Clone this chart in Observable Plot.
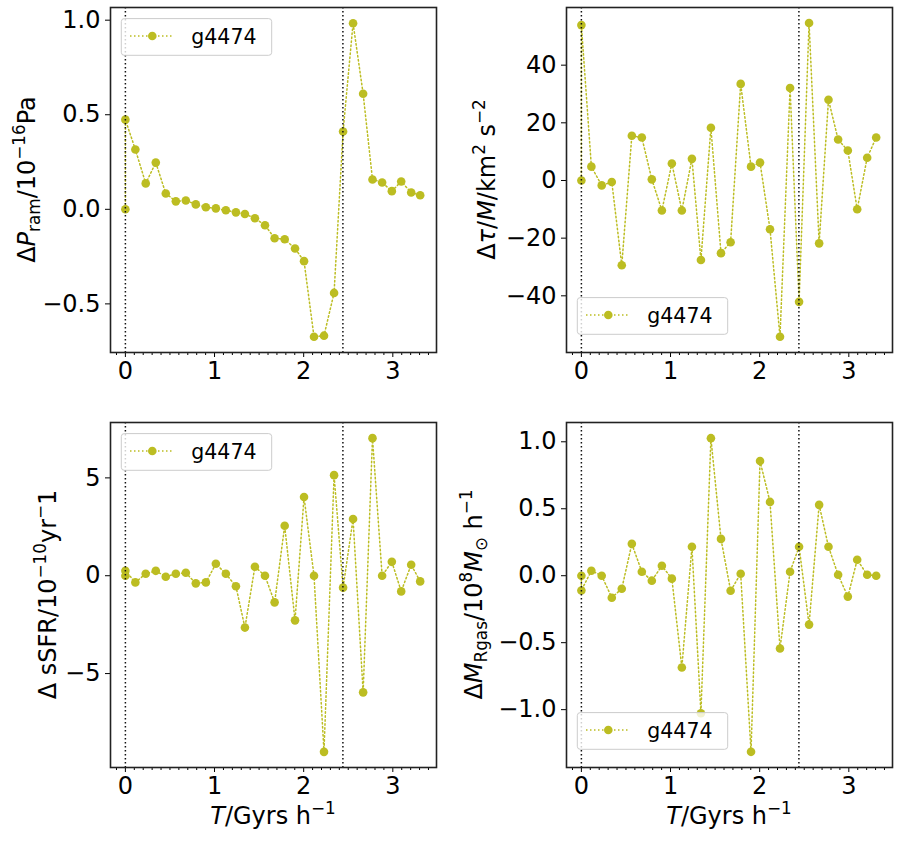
<!DOCTYPE html>
<html><head><meta charset="utf-8">
<script src="https://cdn.jsdelivr.net/npm/d3@7"></script>
<script src="https://cdn.jsdelivr.net/npm/@observablehq/plot@0.6"></script>
<style>
html,body{margin:0;padding:0;background:#fff;overflow:hidden;}
#fig{position:relative;width:898px;height:842px;font-family:"DejaVu Sans";}
#fig svg{position:absolute;}
</style></head><body><div id="fig"></div>
<script>
// ---- data ----
const times = [0, 0, 0.112, 0.228, 0.341, 0.453, 0.566, 0.678, 0.790, 0.903, 1.015, 1.127, 1.240, 1.341, 1.453, 1.566, 1.674, 1.787, 1.903, 2.004, 2.116, 2.228, 2.341, 2.442, 2.554, 2.667, 2.772, 2.880, 2.989, 3.094, 3.206, 3.307];
const dPram = [0, 0.474, 0.316, 0.137, 0.247, 0.084, 0.042, 0.047, 0.026, 0.011, 0.005, -0.005, -0.016, -0.025, -0.047, -0.084, -0.153, -0.158, -0.207, -0.274, -0.674, -0.668, -0.442, 0.411, 0.984, 0.611, 0.158, 0.142, 0.096, 0.147, 0.089, 0.074];
const dTau = [0, 53.9, 4.8, -1.7, -0.5, -29.4, 15.5, 14.9, 0.4, -10.4, 5.9, -10.4, 7.5, -27.6, 18.3, -25.2, -21.4, 33.5, 4.8, 6.2, -16.9, -54.2, 32.1, -42.1, 54.6, -21.8, 28.0, 14.2, 10.4, -10.0, 7.9, 14.9];
const dSSFR = [0, 0.25, -0.34, 0.10, 0.25, -0.05, 0.10, 0.15, -0.39, -0.34, 0.61, 0.10, -0.54, -2.65, 0.46, 0.0, -1.36, 2.55, -2.28, 4.02, 0.0, -9.0, 5.14, -0.61, 2.90, -5.96, 7.03, 0.0, 0.71, -0.80, 0.56, -0.29];
const dMgas = [0, -0.11, 0.037, 0.0, -0.164, -0.097, 0.238, 0.030, -0.037, 0.074, -0.022, -0.685, 0.216, -1.027, 1.027, 0.275, -0.112, 0.015, -1.315, 0.856, 0.551, -0.543, 0.030, 0.216, -0.365, 0.529, 0.216, 0.007, -0.156, 0.119, 0.007, 0.0];
const vLines = [0, 2.44];
const seriesName = "g4474";
const xTicks = [0, 1, 2, 3];
const yTicksPram = [-0.5, 0.0, 0.5, 1.0];
const yTicksTau = [-40, -20, 0, 20, 40];
const yTicksSSFR = [-5, 0, 5];
const yTicksMgas = [-1.0, -0.5, 0.0, 0.5, 1.0];
const xDomain = [-0.167, 3.49];

const olive = "#bcbd22";
const minorX = d3.range(-0.1, 3.45, 0.1).map(v => Math.round(v * 10) / 10).filter(v => !Number.isInteger(v));
const minus = s => s.replace("-", "\u2212");
const fmt1 = d => minus(d.toFixed(1));
const fmt0 = d => minus(String(d));

const fig = d3.select("#fig");
const FW = 326, FH = 345, ML = 110, MT = 7;
const TICK_FS = 24, LABEL_FS = 24;

function addText(svg, x, y, rotate, parts, fs) {
  const t = d3.select(svg).append("text")
    .attr("transform", `translate(${x},${y})` + (rotate ? " rotate(-90)" : ""))
    .attr("text-anchor", "middle")
    .attr("font-family", "DejaVu Sans")
    .attr("font-size", fs)
    .attr("fill", "black");
  let shift = 0;
  for (const [s, kind] of parts) {
    let target = 0, size = fs, style = "normal";
    if (kind === "sup") { target = -0.42 * fs; size = 0.7 * fs; }
    if (kind === "sub") { target = 0.22 * fs; size = 0.7 * fs; }
    if (kind === "i") style = "italic";
    t.append("tspan").attr("dy", target - shift).attr("font-size", size)
      .attr("font-style", style).text(s);
    shift = target;
  }
}

function panel({left, top, series, yDomain, yTicks, yFmt, yLabel, yLabelX, legendLow, xLabel}) {
  const mB = xLabel ? 80 : 50;
  const mR = 6;
  const data = times.map((t, i) => ({t, v: series[i]}));
  const svg = Plot.plot({
    width: ML + FW + mR, height: MT + FH + mB,
    marginLeft: ML, marginTop: MT, marginRight: mR, marginBottom: mB,
    style: {fontFamily: "DejaVu Sans", fontSize: TICK_FS + "px", color: "black", background: "transparent", overflow: "visible"},
    x: {domain: xDomain},
    y: {domain: yDomain},
    marks: [
      Plot.line(data, {x: "t", y: "v", stroke: olive, strokeWidth: 1.5, strokeDasharray: "1.5,2.5"}),
      Plot.dot(data, {x: "t", y: "v", fill: olive, r: 4.3}),
      Plot.ruleX(vLines, {stroke: "#111", strokeWidth: 1.5, strokeDasharray: "1.5,2.5"}),
      Plot.axisX({ticks: minorX, tickSize: 3, tickFormat: () => "", label: null}),
      Plot.axisX({ticks: xTicks, tickSize: 5, tickPadding: 4, tickFormat: fmt0, fontSize: TICK_FS, label: null}),
      Plot.axisY({ticks: yTicks, tickSize: 5, tickPadding: 5, tickFormat: yFmt, fontSize: TICK_FS, label: null}),
      Plot.frame({stroke: "#222", strokeWidth: 1.6})
    ]
  });
  svg.style.left = (left - ML) + "px";
  svg.style.top = (top - MT) + "px";
  // y label
  addText(svg, yLabelX - (left - ML), MT + FH / 2, true, yLabel, LABEL_FS);
  if (xLabel) addText(svg, ML + FW / 2, MT + FH + 57, false, xLabel, LABEL_FS);
  // legend
  const ly = legendLow ? MT + FH - 54.4 : MT + 11.6;
  const g = d3.select(svg).append("g").attr("transform", `translate(${ML + 11.3},${ly})`);
  g.append("rect").attr("width", 150.4).attr("height", 36.7).attr("rx", 3)
    .attr("fill", "white").attr("fill-opacity", 0.8).attr("stroke", "#cccccc").attr("stroke-width", 1);
  g.append("line").attr("x1", 8.7).attr("x2", 50.4).attr("y1", 17.4).attr("y2", 17.4)
    .attr("stroke", olive).attr("stroke-width", 1.5).attr("stroke-dasharray", "1.5,2.5");
  g.append("circle").attr("cx", 31).attr("cy", 17.4).attr("r", 4.3).attr("fill", olive);
  g.append("text").attr("x", 70).attr("y", 25).attr("text-anchor", "start").attr("font-family", "DejaVu Sans")
    .attr("font-size", 20.5).attr("fill", "black").text(seriesName);
  fig.node().appendChild(svg);
}

panel({left: 110, top: 7, series: dPram, yDomain: [-0.757, 1.067], yTicks: yTicksPram, yFmt: fmt1,
  yLabel: [["Δ"], ["P", "i"], ["ram", "sub"], ["/10"], ["−16", "sup"], ["Pa"]], yLabelX: 35, legendLow: false});
panel({left: 566, top: 7, series: dTau, yDomain: [-59.66, 60.0], yTicks: yTicksTau, yFmt: fmt0,
  yLabel: [["Δ"], ["τ", "i"], ["/"], ["M", "i"], ["/km"], ["2", "sup"], [" s"], ["−2", "sup"]], yLabelX: 495, legendLow: true});
panel({left: 110, top: 422, series: dSSFR, yDomain: [-9.8, 7.83], yTicks: yTicksSSFR, yFmt: fmt0,
  yLabel: [["Δ sSFR/10"], ["−10", "sup"], ["yr"], ["−", "sup"], ["1"]], yLabelX: 56, legendLow: false,
  xLabel: [["T", "i"], ["/Gyrs h"], ["−1", "sup"]]});
panel({left: 566, top: 422, series: dMgas, yDomain: [-1.432, 1.144], yTicks: yTicksMgas, yFmt: fmt1,
  yLabel: [["Δ"], ["M", "i"], ["Rgas", "sub"], ["/10"], ["8", "sup"], ["M", "i"], ["⊙", "sub"], [" h"], ["−1", "sup"]], yLabelX: 482, legendLow: true,
  xLabel: [["T", "i"], ["/Gyrs h"], ["−1", "sup"]]});
</script>
</body></html>
